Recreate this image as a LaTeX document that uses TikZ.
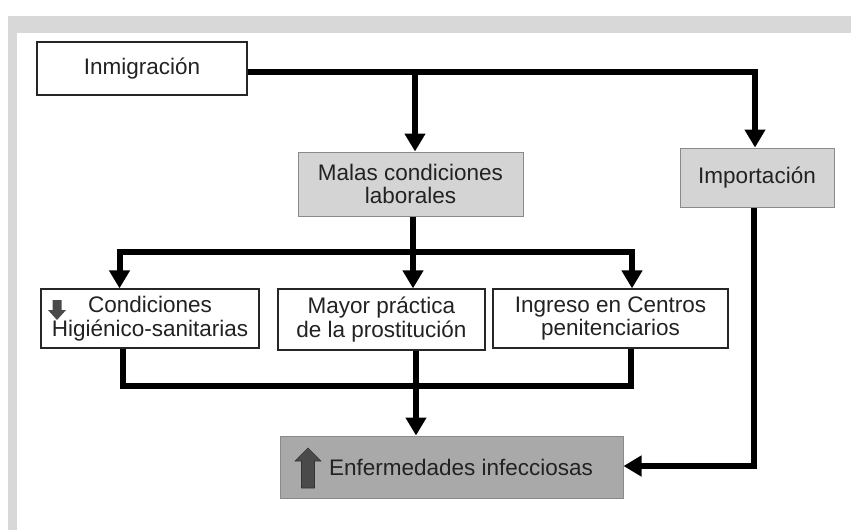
\documentclass[tikz,border=0pt]{standalone}
\usepackage{fontspec}
\setmainfont{Liberation Sans}
\usetikzlibrary{arrows.meta}
\definecolor{framegray}{HTML}{D8D8D8}
\definecolor{lightfill}{HTML}{D4D4D4}
\definecolor{darkfill}{HTML}{A9A9A9}
\definecolor{boxedge}{HTML}{8A8A8A}
\definecolor{txt}{HTML}{222222}
\definecolor{icon}{HTML}{4A4A4A}
\begin{document}
\begin{tikzpicture}[x=1pt,y=-1pt,
  basebox/.style={rectangle, inner sep=0pt, align=center, text=txt,
    font=\fontsize{22.5}{23.5}\selectfont},
  whitebox/.style={basebox, draw=black!85, line width=1.3pt, fill=white},
  lightbox/.style={basebox, draw=boxedge, line width=1pt, fill=lightfill},
  darkbox/.style={basebox, draw=boxedge, line width=1pt, fill=darkfill},
  wire/.style={line width=6pt, draw=black},
  conn/.style={wire, -{Triangle[width=20pt,length=18pt]}}]
\useasboundingbox (0,0) rectangle (851,530);
% frame
\fill[framegray] (8,16) rectangle (851,33);
\fill[framegray] (8,16) rectangle (17,530);
% boxes
\node[whitebox, minimum width=210pt, minimum height=53pt] (inm) at (142,68.5) {Inmigración};
\node[lightbox, minimum width=225pt, minimum height=64pt] (mal) at (410.5,184) {Malas condiciones\\laborales};
\node[lightbox, minimum width=154pt, minimum height=59pt] (imp) at (757,177.5) {Importación};
\node[whitebox, minimum width=218pt, minimum height=59pt] (cond) at (150,318.5) {Condiciones\\Higiénico-sanitarias};
\node[whitebox, minimum width=207pt, minimum height=61pt] (may) at (381.5,319.5) {Mayor práctica\\de la prostitución};
\node[whitebox, minimum width=235pt, minimum height=59pt] (ing) at (610.5,318.5) {Ingreso en Centros\\penitenciarios};
\node[darkbox, minimum width=343pt, minimum height=62pt] (enf) at (451.5,467) {\hspace*{19pt}Enfermedades infecciosas};
% icons
\fill[icon] (52.5,300) -- (61.5,300) -- (61.5,310) -- (66,310) -- (57,320) -- (48,310) -- (52.5,310) -- cycle;
\filldraw[fill=icon, draw=black!80, line width=0.6pt] (301.5,488) -- (314.5,488) -- (314.5,461) -- (321,461) -- (308,448) -- (295,461) -- (301.5,461) -- cycle;
% junction coordinates
\coordinate (c1) at (755,71.5);
\coordinate (c2) at (415,71.5);
\coordinate (c3) at (413,252);
\coordinate (c4) at (119.5,252);
\coordinate (c5) at (632,252);
\coordinate (c6) at (123,386);
\coordinate (c7) at (631,386);
\coordinate (c8) at (416,386);
\coordinate (c9) at (754,466);
% connectors
\draw[conn] ([yshift=-3pt]inm.east) -- (c1) -- (c1 |- imp.north);
\draw[conn] (c2) -- (c2 |- mal.north);
\draw[wire] (c3 |- mal.south) -- (c3);
\draw[conn] (c5) -- (c4) -- (c4 |- cond.north);
\draw[conn] (c4) -- (c5) -- (c5 |- ing.north);
\draw[conn] (c3) -- (c3 |- may.north);
\draw[wire] (c6 |- cond.south) -- (c6) -- (c7) -- (c7 |- ing.south);
\draw[conn] (c8 |- may.south) -- (c8 |- enf.north);
\draw[conn] (c9 |- imp.south) -- (c9) -- (c9 -| enf.east);
\end{tikzpicture}
\end{document}
